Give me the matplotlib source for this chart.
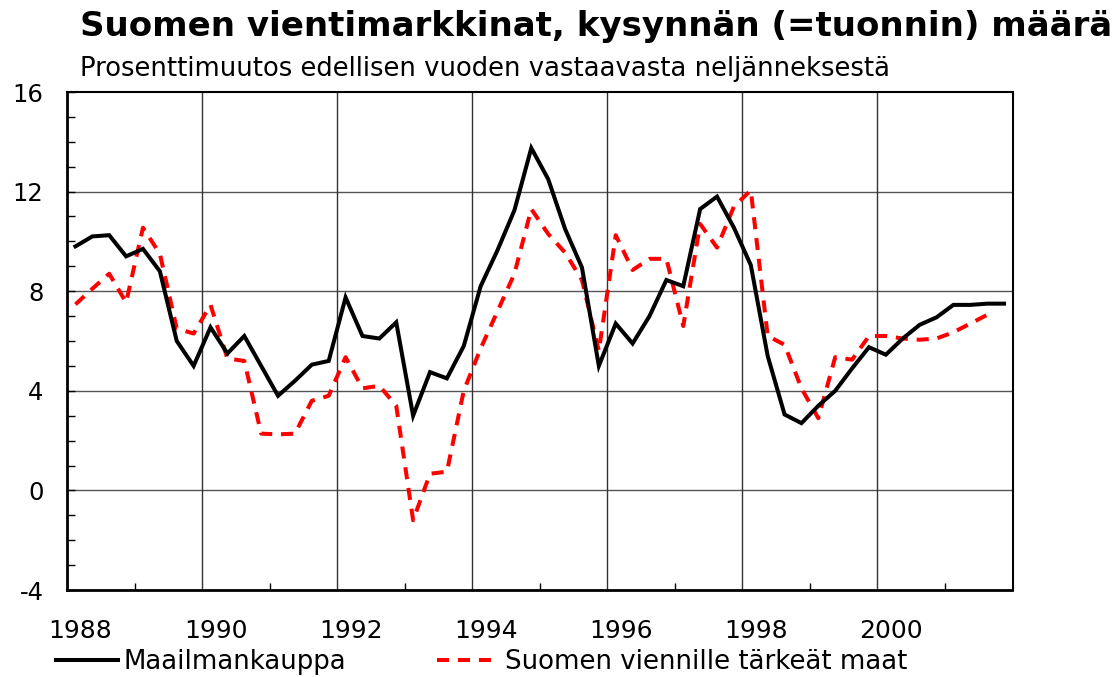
import numpy as np
import matplotlib
matplotlib.use("Agg")
import matplotlib.pyplot as plt
from matplotlib.ticker import MultipleLocator, FixedLocator

# Quarterly data, 1988Q1 ->
start_year = 1988
maailmankauppa = [9.8, 10.2, 10.25, 9.4, 9.7, 8.8, 6.0, 5.0, 6.55, 5.5,
                  6.2, 5.0, 3.8, 4.4, 5.05, 5.2, 7.75, 6.2, 6.1, 6.75,
                  3.0, 4.75, 4.5, 5.8, 8.2, 9.65, 11.25, 13.75, 12.5, 10.5,
                  8.95, 5.0, 6.7, 5.9, 7.0, 8.45, 8.2, 11.3, 11.8, 10.55,
                  9.05, 5.4, 3.05, 2.7, 3.4, 4.0, 4.9, 5.75, 5.45, 6.1,
                  6.65, 6.95, 7.45, 7.45, 7.5, 7.5]
tarkeat_maat = [7.47, 8.1, 8.7, 7.55, 10.55, 9.5, 6.5, 6.3, 7.45, 5.3,
                5.2, 2.28, 2.25, 2.28, 3.6, 3.8, 5.35, 4.1, 4.2, 3.4,
                -1.2, 0.67, 0.75, 4.0, 5.7, 7.2, 8.7, 11.3, 10.3, 9.55,
                8.45, 5.6, 10.25, 8.85, 9.3, 9.3, 6.6, 10.7, 9.75, 11.4,
                12.05, 6.2, 5.85, 4.1, 2.9, 5.35, 5.25, 6.2, 6.2, 6.1,
                6.05, 6.1, 6.35, 6.7, 7.05]
year_labels = ["1988", "1990", "1992", "1994", "1996", "1998", "2000"]
y_ticks = [-4, 0, 4, 8, 12, 16]

title = "Suomen vientimarkkinat, kysynnän (=tuonnin) määrä"
subtitle = "Prosenttimuutos edellisen vuoden vastaavasta neljänneksestä"

x1 = start_year + (np.arange(len(maailmankauppa)) + 0.5) / 4
x2 = start_year + (np.arange(len(tarkeat_maat)) + 0.5) / 4

plt.rcParams["font.family"] = ["DejaVu Sans"]

fig = plt.figure(figsize=(11.2, 6.77), dpi=100)
ax = fig.add_axes([67 / 1120, 1 - 590 / 677, (1012.5 - 67) / 1120, (590 - 92) / 677])

grid_col = "#555555"
for yv in [0, 4, 8, 12]:
    ax.axhline(yv, color=grid_col, lw=1.0, zorder=1)
for xv in range(1990, 2001, 2):
    ax.axvline(xv, color="#333333", lw=1.0, zorder=1)

l1, = ax.plot(x1, maailmankauppa, color="black", lw=2.9, solid_joinstyle="miter",
              label="Maailmankauppa", zorder=3)
l2, = ax.plot(x2, tarkeat_maat, color="#ff0000", lw=2.9, linestyle=(0, (3.0, 2.2)),
              dash_capstyle="butt", label="Suomen viennille tärkeät maat", zorder=2)

ax.set_xlim(1988, 2002)
ax.set_ylim(-4, 16)

ax.yaxis.set_major_locator(FixedLocator(y_ticks))
ax.set_yticklabels([str(v) for v in y_ticks])
ax.yaxis.set_minor_locator(MultipleLocator(1))
ax.tick_params(axis="y", which="both", direction="in", length=6, width=1,
               labelsize=17.5, pad=17)

label_pos = [int(y) + 0.2 for y in year_labels]
ax.xaxis.set_major_locator(FixedLocator(label_pos))
ax.set_xticklabels(year_labels)
ax.xaxis.set_minor_locator(FixedLocator(range(1989, 2002, 2)))
ax.tick_params(axis="x", which="major", length=0, labelsize=18, pad=21)
ax.tick_params(axis="x", which="minor", direction="in", length=5, width=1)

for side in ["left", "bottom"]:
    ax.spines[side].set_linewidth(2)
for side in ["top", "right"]:
    ax.spines[side].set_linewidth(1.5)

fig.text(80 / 1120, 1 - 36 / 677, title, fontsize=24.5, fontweight="bold",
         ha="left", va="baseline")
fig.text(80 / 1120, 1 - 76 / 677, subtitle, fontsize=18.6,
         ha="left", va="baseline")

fig.legend(handles=[l1, l2], loc="center left", bbox_to_anchor=(56 / 1120, 1 - 662 / 677),
           ncol=2, frameon=False, fontsize=18.7, handlelength=2.4, handletextpad=0.2,
           columnspacing=3.5, borderpad=0, borderaxespad=0)

fig.savefig("out.png", dpi=100)
